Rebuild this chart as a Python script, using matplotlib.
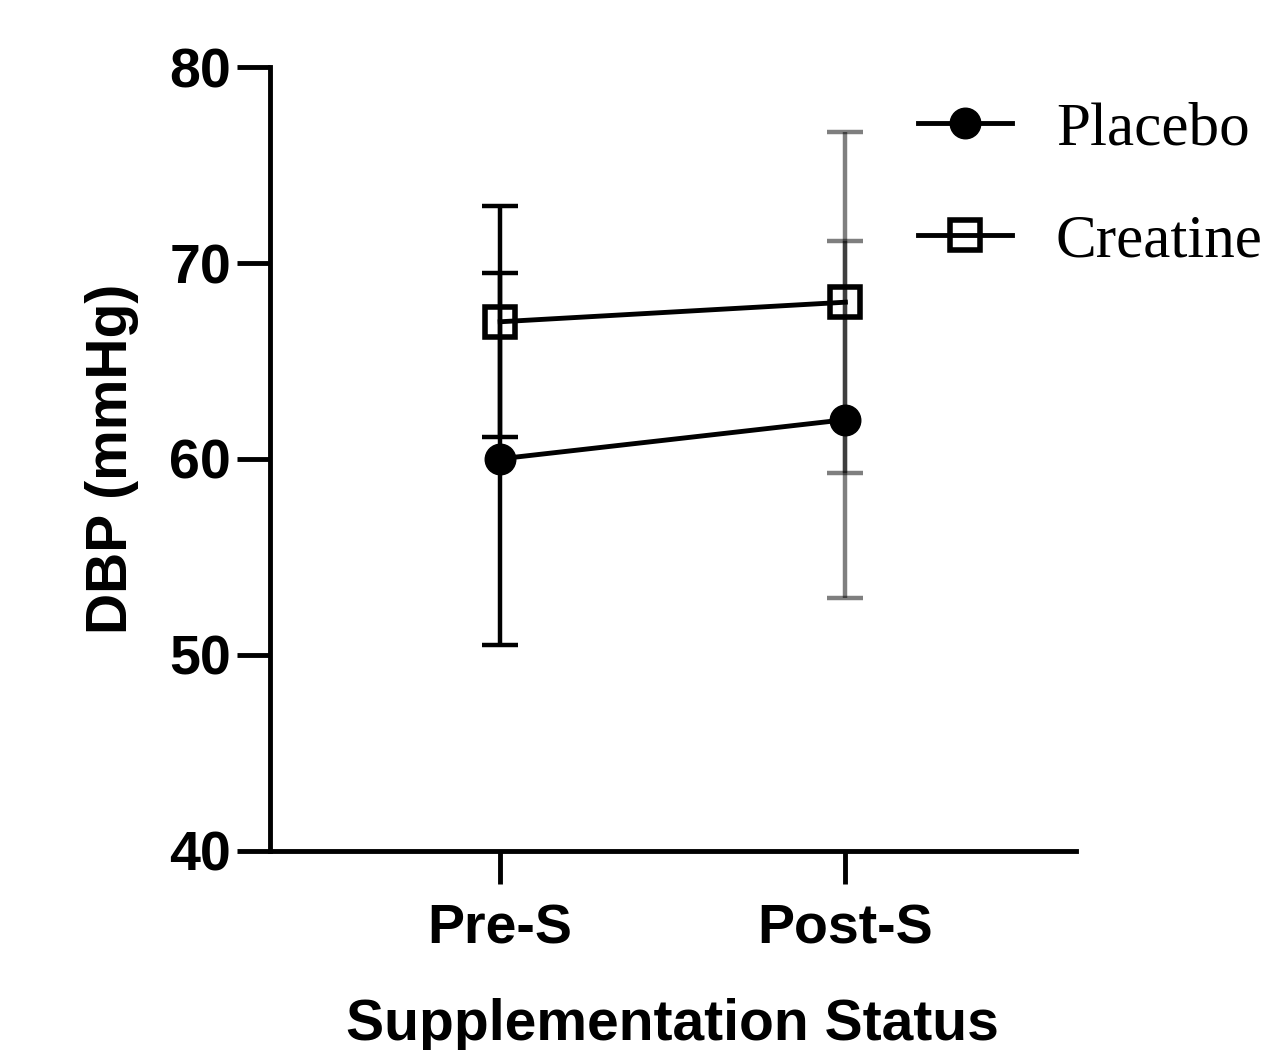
import matplotlib
matplotlib.use("Agg")
from matplotlib import pyplot as plt

matplotlib.rcParams["font.family"] = "Liberation Sans"
matplotlib.rcParams["font.weight"] = "bold"

stages = ["Pre-S", "Post-S"]
placebo_mean = [60.0, 62.0]
placebo_sd = [9.5, 9.1]
creatine_mean = [67.0, 68.0]
creatine_sd = [5.9, 8.7]

x = list(range(len(stages)))

fig = plt.figure(figsize=(12.73, 10.5), dpi=100)
ax = fig.add_axes([0.212, 0.190, 0.633, 0.746])

# error bars: Pre-S in black, Post-S semi-transparent (they look grey)
for i, col in zip(x, ["black", (0, 0, 0, 0.5)]):
    for m, sd in [(placebo_mean, placebo_sd), (creatine_mean, creatine_sd)]:
        ax.errorbar(x[i], m[i], yerr=sd[i], fmt="none", ecolor=col,
                    elinewidth=3.2, capsize=13, capthick=3.2, zorder=2)

ax.plot(x, placebo_mean, "-o", color="black", lw=3.5, ms=22,
        label="Placebo", zorder=3)
ax.plot(x, creatine_mean, "-s", color="black", lw=3.5, ms=21, mew=4,
        mfc="none", label="Creatine", zorder=3)

ax.set_xlim(-0.667, 1.667)
ax.set_ylim(40, 80)
ax.set_yticks([40, 50, 60, 70, 80])
ax.set_xticks(x)
ax.set_xticklabels(stages)
for s in ["top", "right"]:
    ax.spines[s].set_visible(False)
for s in ["left", "bottom"]:
    ax.spines[s].set_linewidth(3.5)
ax.tick_params(axis="both", length=24, width=3.5, labelsize=40)
ax.tick_params(axis="y", pad=4)
ax.tick_params(axis="x", pad=14)
ax.set_xlabel("Supplementation Status", fontsize=41, fontweight="bold", labelpad=31)
ax.set_ylabel("DBP (mmHg)", fontsize=41, fontweight="bold", labelpad=22)

fig.legend(loc="upper left", bbox_to_anchor=(0.721, 0.903), frameon=False,
           prop={"family": "Liberation Serif", "weight": "normal", "size": 44},
           handlelength=1.54, handletextpad=0.72, labelspacing=0.92,
           borderaxespad=0, borderpad=0)

fig.savefig("out.png", dpi=100)
